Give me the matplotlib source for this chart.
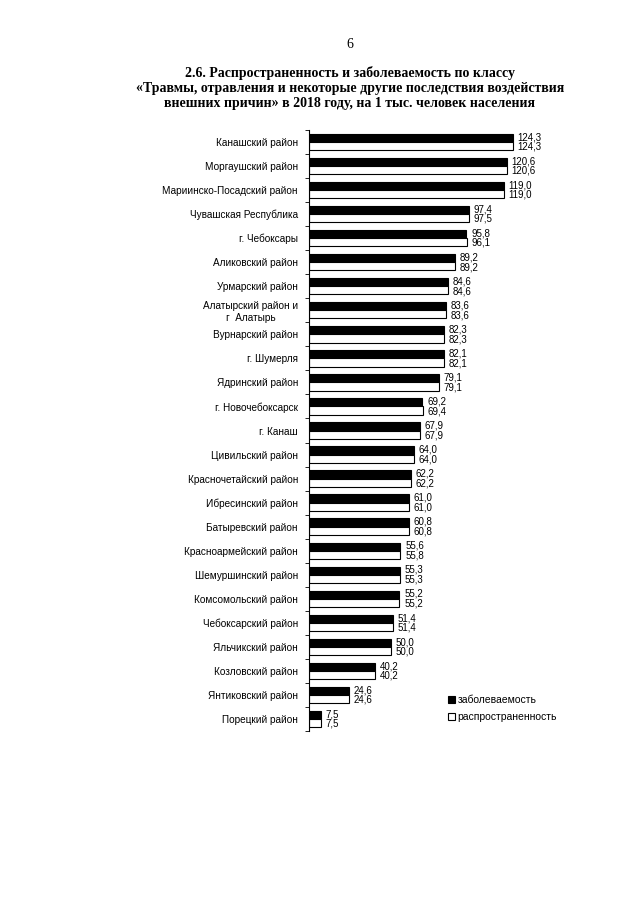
import numpy as np
import matplotlib
matplotlib.use("Agg")
import matplotlib.pyplot as plt

# Data
regions = [
    "Канашский район", "Моргаушский район", "Мариинско-Посадский район",
    "Чувашская Республика", "г. Чебоксары", "Аликовский район",
    "Урмарский район", "Алатырский район и\nг  Алатырь", "Вурнарский район",
    "г. Шумерля", "Ядринский район", "г. Новочебоксарск", "г. Канаш",
    "Цивильский район", "Красночетайский район", "Ибресинский район",
    "Батыревский район", "Красноармейский район", "Шемуршинский район",
    "Комсомольский район", "Чебоксарский район", "Яльчикский район",
    "Козловский район", "Янтиковский район", "Порецкий район",
]
incidence = [124.3, 120.6, 119.0, 97.4, 95.8, 89.2, 84.6, 83.6, 82.3, 82.1,
             79.1, 69.2, 67.9, 64.0, 62.2, 61.0, 60.8, 55.6, 55.3, 55.2,
             51.4, 50.0, 40.2, 24.6, 7.5]
prevalence = [124.3, 120.6, 119.0, 97.5, 96.1, 89.2, 84.6, 83.6, 82.3, 82.1,
              79.1, 69.4, 67.9, 64.0, 62.2, 61.0, 60.8, 55.8, 55.3, 55.2,
              51.4, 50.0, 40.2, 24.6, 7.5]

fmt = lambda v: f"{v:.1f}".replace(".", ",")

W, H = 640, 905
fig = plt.figure(figsize=(W / 100, H / 100), dpi=100)
fig.patch.set_facecolor("white")

serif = ["Liberation Serif", "DejaVu Serif"]
sans = ["Liberation Sans", "DejaVu Sans"]

# page number and title
fig.text(350 / W, 1 - 45 / H, "6", ha="center", va="center", family=serif, fontsize=10)
title = ("2.6. Распространенность и заболеваемость по классу\n"
         "«Травмы, отравления и некоторые другие последствия воздействия\n"
         "внешних причин» в 2018 году, на 1 тыс. человек населения")
fig.text(350 / W, 1 - 88 / H, title, ha="center", va="center", family=serif,
         fontweight="bold", fontsize=10, linespacing=1.15)

ax = fig.add_axes([309 / W, 1 - 731 / H, 291 / W, 601 / H])
n = len(regions)
y = np.arange(n)
h = 0.34
ax.barh(y - h / 2, incidence, height=h, color="black", edgecolor="black", linewidth=0.8,
        label="заболеваемость")
ax.barh(y + h / 2, prevalence, height=h, color="white", edgecolor="black", linewidth=0.8,
        label="распространенность")

for i in range(n):
    xe = max(incidence[i], prevalence[i]) + 2.8
    ax.text(xe, i - 0.2, fmt(incidence[i]), va="center", ha="left",
            family=sans, fontsize=7)
    ax.text(xe, i + 0.2, fmt(prevalence[i]), va="center", ha="left",
            family=sans, fontsize=7)

ax.set_xlim(0, 177.5)
ax.set_ylim(n - 0.5, -0.5)
ax.set_yticks(y)
ax.set_yticklabels(regions, family=sans, fontsize=7.2, multialignment="center")
ax.tick_params(axis="y", which="major", length=0, pad=8)
ax.set_yticks(np.arange(n + 1) - 0.5, minor=True)
ax.tick_params(axis="y", which="minor", length=3, width=0.6, direction="out")
ax.set_xticks([])
for s in ["top", "right", "bottom"]:
    ax.spines[s].set_visible(False)
ax.spines["left"].set_linewidth(0.8)
ax.set_facecolor("none")

leg = fig.legend(loc="upper left", bbox_to_anchor=(444 / W, 1 - 691 / H), frameon=False,
                 prop={"family": sans, "size": 7.5}, handlelength=0.7, handleheight=0.7,
                 handletextpad=0.2, labelspacing=0.65, borderaxespad=0)

fig.savefig("out.png", dpi=100, facecolor="white")
